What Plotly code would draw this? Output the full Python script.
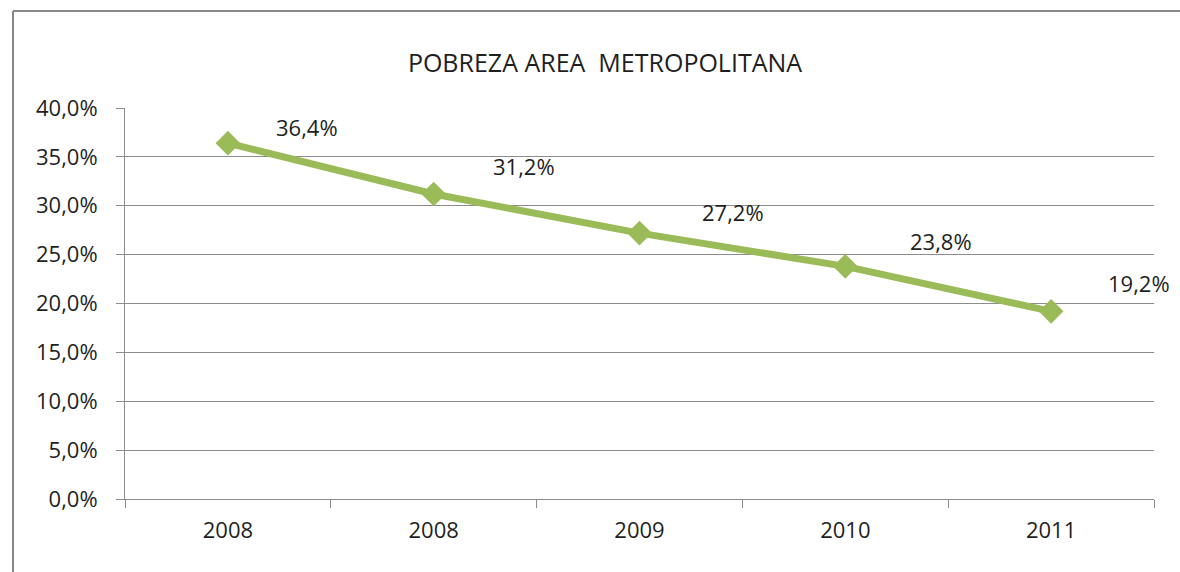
import plotly.graph_objects as go

# Data
categories = ["2008", "2008", "2009", "2010", "2011"]
values = [36.4, 31.2, 27.2, 23.8, 19.2]
y_ticks = [0, 5, 10, 15, 20, 25, 30, 35, 40]
title_text = "POBREZA AREA\u00a0 METROPOLITANA"

def pct(v):
    return f"{v:.1f}".replace(".", ",") + "%"

y_ticktext = [pct(v) for v in y_ticks]

# label offsets (pixels) — style only
label_dx = [79, 90, 93, 96, 88]
label_dy = [16, 28, 21, 25, 28]

W, H = 1180, 572
ML, MR, MT, MB = 125, 26, 108, 73
plot_w = W - ML - MR
plot_h = H - MT - MB

FONT = "Open Sans"
GREEN = "#9BBB59"
GRID = "#8C8C8C"
TXT = "#1f1f1f"
BORDER = "#888888"

xpos = list(range(len(categories)))

fig = go.Figure()
fig.add_trace(go.Scatter(
    x=xpos, y=values, mode="lines+markers",
    line=dict(color=GREEN, width=7),
    marker=dict(symbol="diamond", size=19, color=GREEN, line=dict(width=0)),
    hoverinfo="skip", showlegend=False,
))

for i, v in enumerate(values):
    fig.add_annotation(
        x=xpos[i], y=v, xref="x", yref="y",
        text=pct(v),
        showarrow=False, xshift=label_dx[i], yshift=label_dy[i],
        font=dict(family=FONT, size=22, color=TXT),
    )

# outer chart border: only top and left edges are visible in the crop
bx0 = (13 - ML) / plot_w
by1 = 1 + (MT - 11) / plot_h
bx1 = 1 + MR / plot_w
by0 = -MB / plot_h
fig.add_shape(type="line", xref="paper", yref="paper",
              x0=bx0, x1=bx1, y0=by1, y1=by1,
              line=dict(color=BORDER, width=2), layer="below")
fig.add_shape(type="line", xref="paper", yref="paper",
              x0=bx0, x1=bx0, y0=by0, y1=by1,
              line=dict(color=BORDER, width=2), layer="below")

fig.update_layout(
    width=W, height=H,
    margin=dict(l=ML, r=MR, t=MT, b=MB),
    paper_bgcolor="white", plot_bgcolor="white",
    font=dict(family=FONT, size=22, color=TXT),
    title=dict(text=title_text, x=605 / W, xanchor="center",
               y=1 - 63 / H, yanchor="middle",
               font=dict(family=FONT, size=25, color=TXT)),
    showlegend=False,
)

fig.update_xaxes(
    range=[-0.5, len(categories) - 0.5],
    tickmode="array", tickvals=xpos, ticktext=categories,
    ticks="", showgrid=False, zeroline=False,
    showline=True, linecolor=GRID, linewidth=1,
    tickfont=dict(family=FONT, size=22, color=TXT),
    ticklabelstandoff=12,
    minor=dict(tick0=-0.5, dtick=1, ticks="outside", ticklen=8,
               tickcolor=GRID, tickwidth=1, showgrid=False),
    fixedrange=True,
)
fig.update_yaxes(
    range=[0, 40], tickmode="array", tickvals=y_ticks, ticktext=y_ticktext,
    ticks="outside", ticklen=8, tickcolor=GRID, tickwidth=1,
    showgrid=True, gridcolor=GRID, gridwidth=1,
    showline=True, linecolor=GRID, linewidth=1, zeroline=False,
    tickfont=dict(family=FONT, size=22, color=TXT),
    ticklabelstandoff=14,
    fixedrange=True,
)

fig.write_html(
    "out.html",
    config={"displayModeBar": False},
    post_script="document.body.style.margin='0';document.body.style.overflow='hidden';",
)
